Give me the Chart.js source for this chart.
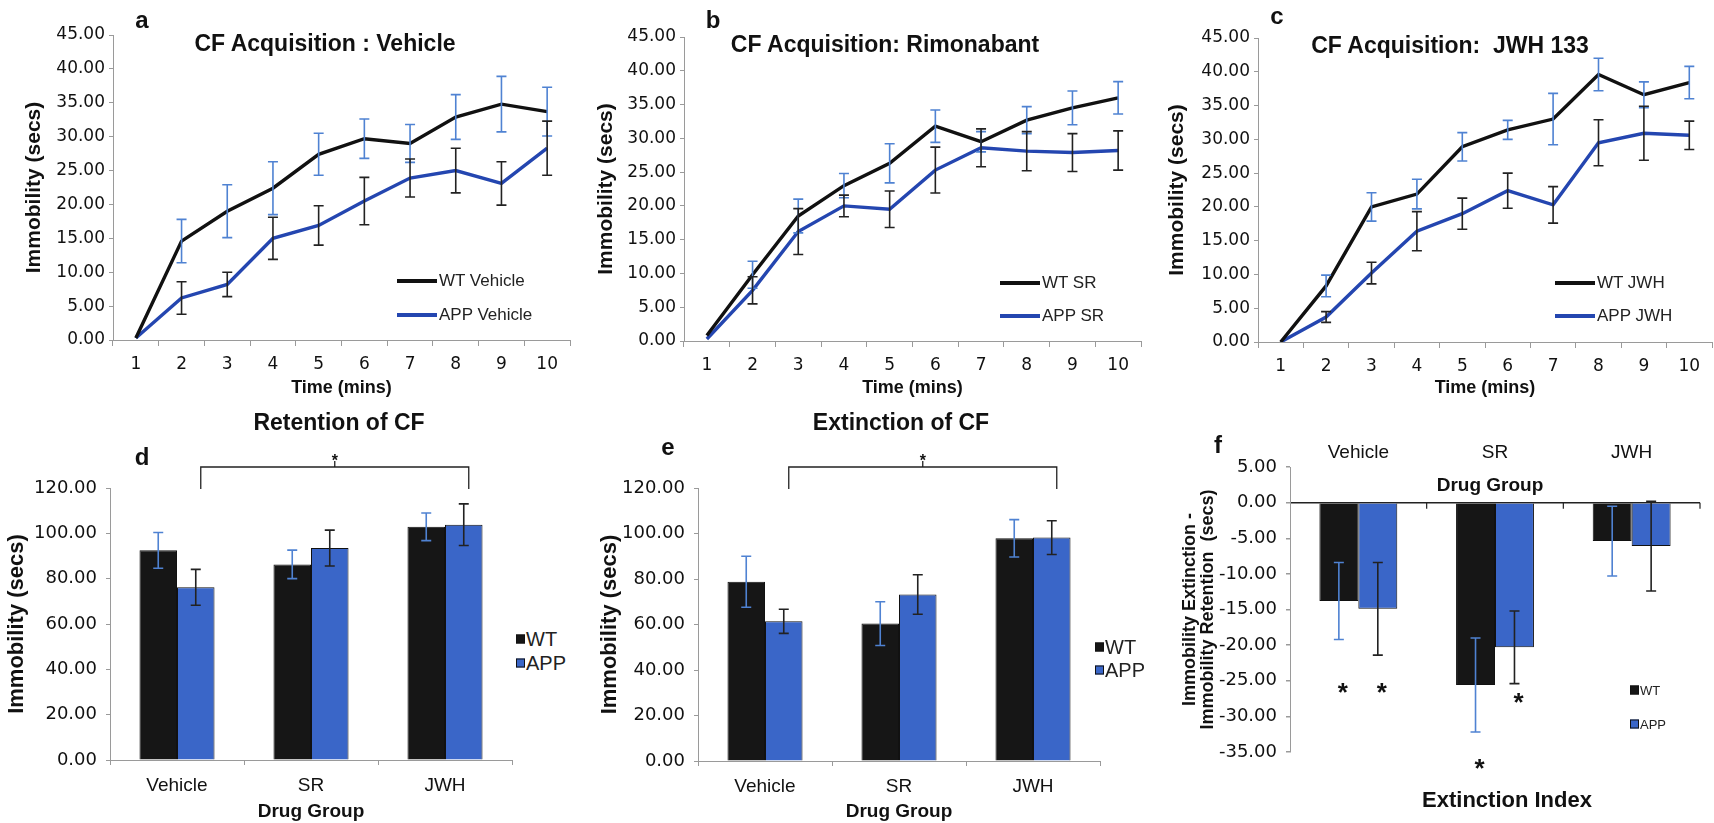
<!DOCTYPE html>
<html>
<head>
<meta charset="utf-8">
<script src="https://cdn.jsdelivr.net/npm/chart.js@4.4.1/dist/chart.umd.min.js"></script>
<style>
  body { margin: 0; width: 1714px; height: 823px; background: #fff; position: relative; overflow: hidden;
         font-family: "Liberation Sans", Arial, sans-serif; color: #111; }
  canvas { position: absolute; }
  .lbl { position: absolute; white-space: nowrap; transform: translate(-50%, -50%); font-weight: bold; }
  .leg { position: absolute; white-space: nowrap; font-size: 17px; color: #222; display: flex; align-items: center; transform: translateY(-50%); }
  .leg i { display: inline-block; width: 40px; height: 3.5px; margin-right: 2px; }
  .leg.sq i { width: 7px; height: 7px; border: 1px solid #111; margin-right: 1px; }
</style>
</head>
<body>
<canvas id="ca" width="575" height="400" style="left:0;top:0"></canvas>
<canvas id="cb" width="561" height="400" style="left:584px;top:0"></canvas>
<canvas id="cc" width="554" height="400" style="left:1160px;top:0"></canvas>
<canvas id="cd" width="515" height="423" style="left:0;top:400px"></canvas>
<canvas id="ce" width="515" height="423" style="left:590px;top:400px"></canvas>
<canvas id="cf" width="534" height="383" style="left:1180px;top:440px"></canvas>

<div class="lbl" style="left:142px;top:20px;font-size:24px">a</div>
<div class="lbl" style="left:325px;top:43px;font-size:23px">CF Acquisition : Vehicle</div>
<div class="lbl" style="left:713px;top:20px;font-size:24px">b</div>
<div class="lbl" style="left:885px;top:44px;font-size:23px">CF Acquisition: Rimonabant</div>
<div class="lbl" style="left:1277px;top:16px;font-size:24px">c</div>
<div class="lbl" style="left:1450px;top:45px;font-size:23px">CF Acquisition:&nbsp; JWH 133</div>
<div class="lbl" style="left:142px;top:457px;font-size:24px">d</div>
<div class="lbl" style="left:339px;top:422px;font-size:23px">Retention of CF</div>
<div class="lbl" style="left:668px;top:447px;font-size:24px">e</div>
<div class="lbl" style="left:901px;top:422px;font-size:23px">Extinction of CF</div>
<div class="lbl" style="left:1218px;top:445px;font-size:24px">f</div>
<div class="lbl" style="left:1490px;top:485px;font-size:19px">Drug Group</div>
<div class="lbl" style="left:1507px;top:800px;font-size:22px">Extinction Index</div>

<div class="leg" style="left:397px;top:281px"><i style="background:#111"></i>WT Vehicle</div>
<div class="leg" style="left:397px;top:315px"><i style="background:#2446b0"></i>APP Vehicle</div>
<div class="leg" style="left:1000px;top:283px"><i style="background:#111"></i>WT SR</div>
<div class="leg" style="left:1000px;top:316px"><i style="background:#2446b0"></i>APP SR</div>
<div class="leg" style="left:1555px;top:283px"><i style="background:#111"></i>WT JWH</div>
<div class="leg" style="left:1555px;top:316px"><i style="background:#2446b0"></i>APP JWH</div>
<div class="leg sq" style="left:516px;top:639px;font-size:20px"><i style="background:#161616"></i>WT</div>
<div class="leg sq" style="left:516px;top:663px;font-size:20px"><i style="background:#3a66c8"></i>APP</div>
<div class="leg sq" style="left:1095px;top:647px;font-size:20px"><i style="background:#161616"></i>WT</div>
<div class="leg sq" style="left:1095px;top:670px;font-size:20px"><i style="background:#3a66c8"></i>APP</div>
<div class="leg sq" style="left:1630px;top:690px;font-size:13px"><i style="background:#161616"></i>WT</div>
<div class="leg sq" style="left:1630px;top:724px;font-size:13px"><i style="background:#3a66c8"></i>APP</div>

<script>
// acquisition (panels a-c)
const minutes = ['1', '2', '3', '4', '5', '6', '7', '8', '9', '10'];
const acqTicks = [0, 5, 10, 15, 20, 25, 30, 35, 40, 45];

const wtVehicle = [0.3, 14.6, 19.0, 22.4, 27.4, 29.7, 29.0, 32.9, 34.8, 33.7];
const wtVehicleErr = [0, 3.2, 3.9, 3.9, 3.1, 2.9, 2.8, 3.3, 4.1, 3.6];
const appVehicle = [0.3, 6.2, 8.2, 15.0, 16.9, 20.5, 23.9, 25.0, 23.1, 28.3];
const appVehicleErr = [0, 2.4, 1.8, 3.1, 2.9, 3.5, 2.8, 3.3, 3.2, 4.0];

const wtSR = [0.8, 9.8, 18.5, 23.0, 26.3, 31.8, 29.5, 32.7, 34.5, 36.0];
const wtSRErr = [0, 2.0, 2.5, 1.8, 2.9, 2.4, 1.5, 2.0, 2.5, 2.4];
const appSR = [0.3, 7.5, 16.2, 20.0, 19.5, 25.3, 28.6, 28.1, 27.9, 28.2];
const appSRErr = [0, 2.0, 3.4, 1.6, 2.7, 3.4, 2.8, 2.9, 2.8, 2.9];

const wtJWH = [0, 8.3, 20.0, 21.9, 28.9, 31.4, 33.0, 39.6, 36.6, 38.4];
const wtJWHErr = [0, 1.6, 2.1, 2.2, 2.1, 1.4, 3.8, 2.4, 1.9, 2.4];
const appJWH = [0, 3.7, 10.2, 16.4, 19.0, 22.4, 20.3, 29.5, 30.9, 30.6];
const appJWHErr = [0, 0.8, 1.6, 2.9, 2.3, 2.6, 2.7, 3.4, 4.0, 2.1];

// drug group bars (panels d-f)
const drugGroups = ['Vehicle', 'SR', 'JWH'];
const barTicks = [0, 20, 40, 60, 80, 100, 120];
const indexTicks = [-35, -30, -25, -20, -15, -10, -5, 0, 5];

const retentionWT = [92.5, 86.3, 102.9];
const retentionWTErr = [7.9, 6.3, 6.1];
const retentionAPP = [76.2, 93.5, 103.8];
const retentionAPPErr = [7.9, 7.9, 9.2];

const extinctionWT = [78.8, 60.4, 97.9];
const extinctionWTErr = [11.2, 9.6, 8.2];
const extinctionAPP = [61.4, 73.2, 98.2];
const extinctionAPPErr = [5.3, 8.7, 7.4];

const indexWT = [-13.8, -25.6, -5.4];
const indexWTErr = [5.4, 6.6, 4.9];
const indexAPP = [-14.9, -20.3, -6.1];
const indexAPPErr = [6.5, 5.1, 6.3];
const indexStarsWT = [-25.7, -36.4, null];
const indexStarsAPP = [-25.7, -27.1, null];

const wtLine = '#111', appLine = '#2446b0';
const wtBar = '#161616', appBar = '#3a66c8';
const blueErr = '#4f82d2', darkErr = '#222';
const axisGrey = '#9a9a9a';

Chart.defaults.font.family = '"Liberation Sans", Arial, sans-serif';
Chart.defaults.color = '#111';

const errorBars = {
  id: 'errorBars',
  afterDatasetsDraw(chart) {
    const ctx = chart.ctx, y = chart.scales.y;
    chart.data.datasets.forEach((ds, i) => {
      if (!ds.errors) return;
      const meta = chart.getDatasetMeta(i);
      ctx.save();
      ctx.strokeStyle = ds.errorColor;
      ctx.lineWidth = 1.6;
      meta.data.forEach((el, j) => {
        const e = ds.errors[j];
        if (!e) return;
        const top = y.getPixelForValue(ds.data[j] + e);
        const bot = y.getPixelForValue(ds.data[j] - e);
        ctx.beginPath();
        ctx.moveTo(el.x, top); ctx.lineTo(el.x, bot);
        ctx.moveTo(el.x - 5, top); ctx.lineTo(el.x + 5, top);
        ctx.moveTo(el.x - 5, bot); ctx.lineTo(el.x + 5, bot);
        ctx.stroke();
      });
      ctx.restore();
    });
  }
};

// significance bracket, stars under bars, ticks on the zero line
const marks = {
  id: 'marks',
  afterDraw(chart, args, opts) {
    const ctx = chart.ctx, area = chart.chartArea, y = chart.scales.y;
    ctx.save();
    ctx.strokeStyle = '#222';
    ctx.fillStyle = '#111';
    ctx.textAlign = 'center';
    if (opts.bracket) {
      const m = chart.getDatasetMeta(1);
      const x1 = m.data[opts.bracket[0]].x + 5, x2 = m.data[opts.bracket[1]].x + 5;
      const top = area.top - 21, bot = area.top + 1, xm = (x1 + x2) / 2;
      ctx.lineWidth = 1.3;
      ctx.beginPath();
      ctx.moveTo(x1, bot); ctx.lineTo(x1, top); ctx.lineTo(x2, top); ctx.lineTo(x2, bot);
      ctx.moveTo(xm, top); ctx.lineTo(xm, top - 6);
      ctx.stroke();
      ctx.font = 'bold 16px "Liberation Sans"';
      ctx.fillText('*', xm, top - 1);
    }
    if (opts.stars) {
      ctx.font = 'bold 26px "Liberation Sans"';
      opts.stars.forEach((list, i) => {
        const meta = chart.getDatasetMeta(i);
        list.forEach((v, j) => {
          if (v === null) return;
          ctx.fillText('*', meta.data[j].x + 4, y.getPixelForValue(v) + 15);
        });
      });
    }
    if (opts.zeroTicks) {
      const y0 = y.getPixelForValue(0), w = (area.right - area.left) / drugGroups.length;
      ctx.lineWidth = 1.2;
      ctx.beginPath();
      for (let k = 1; k <= drugGroups.length; k++) {
        ctx.moveTo(area.left + k * w, y0); ctx.lineTo(area.left + k * w, y0 + 6);
      }
      ctx.stroke();
    }
    ctx.restore();
  }
};

function setTicks(list) {
  return s => { s.ticks = list.map(v => ({ value: v })); };
}

function acqChart(id, names, wt, wtErr, app, appErr, box) {
  new Chart(document.getElementById(id), {
    type: 'line',
    data: {
      labels: minutes,
      datasets: [
        { label: names[0], data: wt, errors: wtErr, errorColor: blueErr, borderColor: wtLine,
          borderWidth: 3.4, pointRadius: 0, tension: 0 },
        { label: names[1], data: app, errors: appErr, errorColor: darkErr, borderColor: appLine,
          borderWidth: 3.4, pointRadius: 0, tension: 0 }
      ]
    },
    options: {
      responsive: false,
      animation: false,
      layout: { padding: { top: box.top, right: box.right, left: 0, bottom: 0 } },
      plugins: { legend: { display: false }, tooltip: { enabled: false } },
      scales: {
        x: {
          offset: true,
          grid: { offset: true, drawOnChartArea: false, tickLength: 6, color: axisGrey },
          border: { color: axisGrey },
          ticks: { padding: 8, font: { family: '"DejaVu Sans"', size: 17 } },
          title: { display: true, text: 'Time (mins)', font: { size: 18, weight: 'bold' }, padding: { top: 0, bottom: 1 } },
          afterFit: s => { s.height = box.xh; }
        },
        y: {
          min: acqTicks[0], max: acqTicks[acqTicks.length - 1],
          afterBuildTicks: setTicks(acqTicks),
          grid: { drawOnChartArea: false, tickLength: 4, color: axisGrey },
          border: { color: axisGrey },
          ticks: { padding: 4, font: { family: '"DejaVu Sans"', size: 17 }, callback: v => v.toFixed(2) },
          title: { display: true, text: 'Immobility (secs)', font: { size: 21, weight: 'bold' }, padding: { top: box.tp, bottom: 0 } },
          afterFit: s => { s.width = box.yw; }
        }
      }
    },
    plugins: [errorBars]
  });
}

acqChart('ca', ['WT Vehicle', 'APP Vehicle'], wtVehicle, wtVehicleErr, appVehicle, appVehicleErr,
  { top: 35, right: 5, xh: 60, yw: 113, tp: 22 });
acqChart('cb', ['WT SR', 'APP SR'], wtSR, wtSRErr, appSR, appSRErr,
  { top: 37, right: 4, xh: 59, yw: 100, tp: 10 });
acqChart('cc', ['WT JWH', 'APP JWH'], wtJWH, wtJWHErr, appJWH, appJWHErr,
  { top: 38, right: 2, xh: 58, yw: 98, tp: 5 });

function barChart(id, wt, wtErr, app, appErr, box) {
  new Chart(document.getElementById(id), {
    type: 'bar',
    data: {
      labels: drugGroups,
      datasets: [
        { label: 'WT', data: wt, errors: wtErr, errorColor: blueErr, backgroundColor: wtBar,
          borderColor: '#111', borderWidth: 1, barPercentage: 1, categoryPercentage: 0.56 },
        { label: 'APP', data: app, errors: appErr, errorColor: darkErr, backgroundColor: appBar,
          borderColor: '#111', borderWidth: 1, barPercentage: 1, categoryPercentage: 0.56 }
      ]
    },
    options: {
      responsive: false,
      animation: false,
      layout: { padding: { top: box.top, right: box.right, left: 0, bottom: 0 } },
      plugins: { legend: { display: false }, tooltip: { enabled: false }, marks: { bracket: [0, 2] } },
      scales: {
        x: {
          grid: { drawOnChartArea: false, tickLength: 5, color: axisGrey },
          border: { color: axisGrey },
          ticks: { padding: 9, font: { size: 19 } },
          title: { display: true, text: 'Drug Group', font: { size: 19, weight: 'bold' }, padding: { top: 0, bottom: 0 } },
          afterFit: s => { s.height = box.xh; }
        },
        y: {
          min: barTicks[0], max: barTicks[barTicks.length - 1],
          afterBuildTicks: setTicks(barTicks),
          grid: { drawOnChartArea: false, tickLength: 4, color: axisGrey },
          border: { color: axisGrey },
          ticks: { padding: 9, font: { family: '"DejaVu Sans"', size: 18 }, callback: v => v.toFixed(2) },
          title: { display: true, text: 'Immobility (secs)', font: { size: 22, weight: 'bold' }, padding: { top: box.tp, bottom: 0 } },
          afterFit: s => { s.width = box.yw; }
        }
      }
    },
    plugins: [errorBars, marks]
  });
}

barChart('cd', retentionWT, retentionWTErr, retentionAPP, retentionAPPErr,
  { top: 88, right: 3, xh: 63, yw: 110, tp: 4 });
barChart('ce', extinctionWT, extinctionWTErr, extinctionAPP, extinctionAPPErr,
  { top: 88, right: 5, xh: 62, yw: 108, tp: 7 });

new Chart(document.getElementById('cf'), {
  type: 'bar',
  data: {
    labels: drugGroups,
    datasets: [
      { label: 'WT', data: indexWT, errors: indexWTErr, errorColor: blueErr, backgroundColor: wtBar,
        borderColor: '#111', borderWidth: 1, barPercentage: 1, categoryPercentage: 0.57 },
      { label: 'APP', data: indexAPP, errors: indexAPPErr, errorColor: darkErr, backgroundColor: appBar,
        borderColor: '#111', borderWidth: 1, barPercentage: 1, categoryPercentage: 0.57 }
    ]
  },
  options: {
    responsive: false,
    animation: false,
    layout: { padding: { top: 0, right: 14, left: 0, bottom: 71 } },
    plugins: {
      legend: { display: false }, tooltip: { enabled: false },
      marks: { stars: [indexStarsWT, indexStarsAPP], zeroTicks: true }
    },
    scales: {
      x: {
        position: 'top',
        grid: { display: false },
        border: { display: false },
        ticks: { padding: -5, font: { size: 19 } },
        afterFit: s => { s.height = 27; }
      },
      y: {
        min: indexTicks[0], max: indexTicks[indexTicks.length - 1],
        afterBuildTicks: setTicks(indexTicks),
        grid: {
          color: c => c.tick && c.tick.value === 0 ? '#222' : 'rgba(0,0,0,0)',
          lineWidth: 1.5, tickColor: axisGrey, tickLength: 4
        },
        border: { color: axisGrey },
        ticks: { padding: 9, font: { family: '"DejaVu Sans"', size: 18 }, callback: v => v.toFixed(2) },
        title: {
          display: true, text: ['Immobility Extinction -', 'Immobility Retention  (secs)'],
          font: { size: 18, weight: 'bold', lineHeight: 1 }, padding: { top: 1, bottom: 0 }
        },
        afterFit: s => { s.width = 110; }
      }
    }
  },
  plugins: [errorBars, marks]
});
</script>
</body>
</html>
